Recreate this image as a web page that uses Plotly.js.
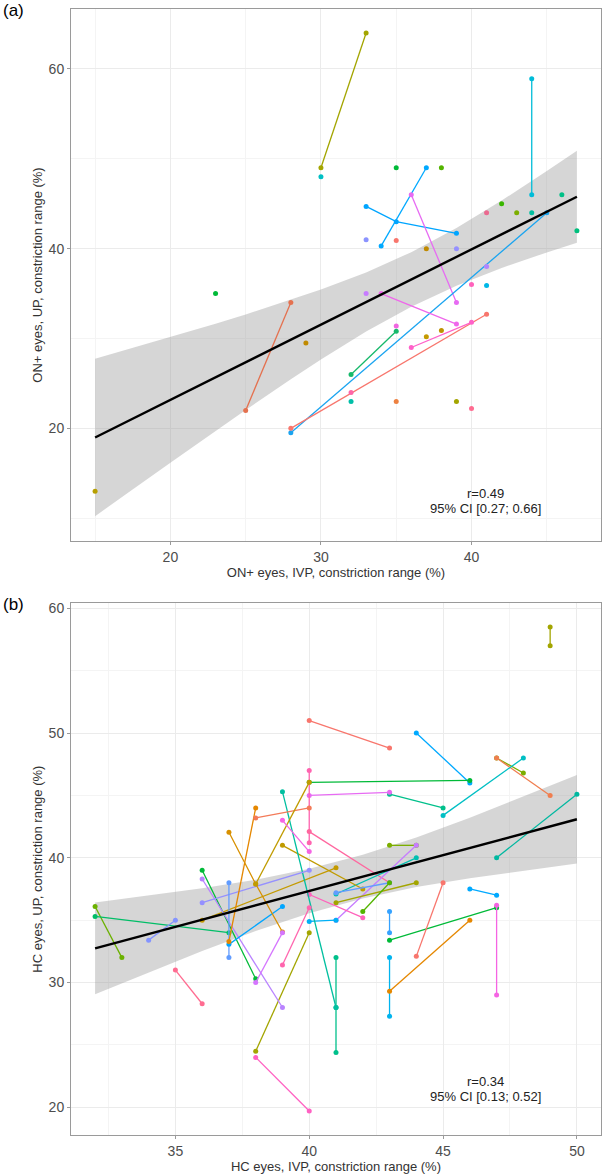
<!DOCTYPE html>
<html>
<head>
<meta charset="utf-8">
<script src="https://cdn.plot.ly/plotly-3.0.1.min.js"></script>
<style>html,body{margin:0;padding:0;background:#fff;}#chart{width:605px;height:1174px;}</style>
</head>
<body>
<div id="chart"></div>
<script>
// ---------- Panel (a): ON+ eyes ----------
const aX = [[30,33],[30],[35],[38],[34,37],[33,35,39],[36,39],[44,44],[44],[46],[42],[43],[41],[47],
  [28,45],[33],[35],[37],[39],[41],[40],[41],[23],[25,28],[15],[28,41],[32],[36,40],[33],[34,39],[35],
  [32,35],[29],[37],[38],[32],[35],[39],[40]];
const aY = [[49,64],[48],[49],[49],[40.3,49],[44.7,43,41.7],[46,34],[58.9,46],[44],[46],[45],[44],[44],[42],
  [19.5,44],[41],[40.9],[40],[40],[38],[36],[35.9],[35],[22,34],[13],[20,32.7],[24],[29,31.8],[35],[35,31.6],[31.4],
  [26,30.8],[29.5],[30.2],[30.9],[23],[23],[23],[22.2]];
const aCol = ['#A3A500','#00BFC4','#00BA38','#53B400','#00A9FF','#00A5FF','#E76BF3','#00BCD8','#00BFA0','#00C087','#39B600','#7CAE00','#EB6A90','#00BF7D',
  '#1AA4F0','#8B93FF','#F8766D','#C08A00','#9590FF','#B385FF','#FF62BC','#00B8E7','#00BA38','#E4714F','#B79F00','#F8766D','#FF66A8','#FF61C9','#C77CFF','#EF67EB','#F066E0',
  '#16B96B','#C08A00','#C49A00','#BE9200','#00BFA8','#ED8141','#A3A500','#FF6C91'];
const aFitX = [15,17,20,23,25,28,30,33,36,39,42,45,47];
const aFitY = [18.98,20.66,23.17,25.68,27.36,29.87,31.55,34.06,36.57,39.08,41.60,44.11,45.78];
const aLo   = [10.22,12.62,16.18,19.72,22.05,25.46,27.66,30.77,33.53,35.87,37.85,39.58,40.66];
const aHi   = [27.74,28.70,30.16,31.64,32.67,34.28,35.44,37.35,39.61,42.29,45.35,48.64,50.90];
const aStats = ['r=0.49','95% CI [0.27; 0.66]'];

// ---------- Panel (b): HC eyes ----------
const bX = [[49,49],[40,43],[44,46],[40,46],[47,48],[47,49],[45,48],[43,45],[40,43],[47,50],[40,40],[40,43],[43,44],[41,44],
  [41,44],[36,41],[39,42],[41,43],[41,44],[42,43],[40,42],[40,41],[38,40],[43,43],[43,47],[43,43],[43,46],[44,45],[46,47],[47,47],
  [41,41,41],[39,41],[38,40],[32,33],[32,37],[34,35],[35,36],[36,38],[36,39],[36,40],[37,37],[37,39],[37,38],[38,40],
  [37,38,39],[38,40],[38,39],[39,40],[39,40]];
const bY = [[58.5,57],[51,48.8],[50,46],[46.05,46.2],[48,46.8],[48,45],[43.4,48],[45.1,44],[45,45.25],[40,45.1],[47,41.2],[42.1,38],[41,41],[35,41],
  [37.1,40],[35,39.2],[41,37.5],[37.2,38],[36.4,38],[35.7,38],[37.06,35.2],[34.9,35],[24.5,34],[35.7,34],[33.4,36],[32,27.3],[29.3,35],[32.1,38],[37.5,37],[36.2,29],
  [32,28,24.4],[45.3,28],[24,19.7],[36.1,32],[35.3,34],[33.4,35],[31,28.3],[39,30.3],[38.3,28],[36.4,39],[38,32],[33.06,36.1],[33.3,44],[43.2,44],
  [42.05,37.9,34.05],[37.9,46.05],[30,34],[31.4,36],[43,40.5]];
const bCol = ['#A3A500','#F8766D','#00A9FF','#00BA38','#7CAE00','#F07E4F','#00BFC4','#00C08B','#E76BF3','#00B8A0','#FF64B0','#FF679F','#7CAE00','#C77CFF',
  '#00BFB0','#C49A00','#C09B00','#619CFF','#A3A500','#53B400','#FF62BC','#00B0F6','#A3A500','#35A2FF','#00BA38','#00B4EF','#E58700','#F8766D','#00A9FF','#F564E3',
  '#00C08B','#00BFA0','#FF61C3','#6BB100','#00BE67','#8494FF','#FF6C91','#00BA38','#B983FF','#9590FF','#619CFF','#00A5FF','#E58700','#F37B59',
  '#D89000','#C09B00','#D575FE','#FF65AE','#F564E3'];
const bFitX = [32,34,36,38,40,42,44,46,48,50];
const bFitY = [32.74,33.89,35.04,36.19,37.34,38.49,39.64,40.79,41.94,43.09];
const bLo   = [29.07,30.82,32.52,34.13,35.56,36.73,37.65,38.37,38.98,39.54];
const bHi   = [36.41,36.96,37.56,38.25,39.12,40.25,41.63,43.21,44.90,46.64];
const bStats = ['r=0.34','95% CI [0.13; 0.52]'];

const traces = [];
function addPanel(fx, fy, lo, hi, gx, gy, gc, xa, ya) {
  traces.push({x: fx.concat(fx.slice().reverse()), y: hi.concat(lo.slice().reverse()),
    type:'scatter', mode:'lines', fill:'toself', fillcolor:'rgba(153,153,153,0.4)',
    line:{width:0}, hoverinfo:'skip', showlegend:false, xaxis:xa, yaxis:ya});
  for (let i = 0; i < gx.length; i++) {
    traces.push({x: gx[i], y: gy[i], type:'scatter', mode: gx[i].length > 1 ? 'lines+markers' : 'markers',
      line:{color: gc[i], width:1.3}, marker:{color: gc[i], size:5},
      showlegend:false, xaxis:xa, yaxis:ya});
  }
  traces.push({x: fx, y: fy, type:'scatter', mode:'lines', line:{color:'#000', width:2.4},
    showlegend:false, xaxis:xa, yaxis:ya});
}
addPanel(aFitX, aFitY, aLo, aHi, aX, aY, aCol, 'x', 'y');
addPanel(bFitX, bFitY, bLo, bHi, bX, bY, bCol, 'x2', 'y2');

const FONT = 'Liberation Sans, Arial, sans-serif';
function ax(extra) {
  return Object.assign({
    showline:true, mirror:true, linecolor:'#9a9a9a', linewidth:1,
    ticks:'outside', ticklen:3, tickcolor:'#9a9a9a', tickwidth:1,
    showgrid:true, gridcolor:'#EBEBEB', gridwidth:1, zeroline:false, automargin:true,
    tickfont:{family:FONT, size:14, color:'#4D4D4D'}
  }, extra);
}
const TF = {family:FONT, size:13, color:'#333'};
const layout = {
  width:605, height:1174,
  margin:{l:71, r:4, t:9, b:39},
  paper_bgcolor:'#fff', plot_bgcolor:'#fff',
  font:{family:FONT, color:'#333'},
  showlegend:false,
  xaxis: ax({domain:[0,1], anchor:'y', range:[13.4,48.6], tickvals:[20,30,40], minor:{showgrid:true, gridcolor:'#F4F4F4', tickvals:[15,25,35,45]},
    title:{text:'ON+ eyes, IVP, constriction range (%)', font:TF, standoff:2}}),
  yaxis: ax({domain:[0.5275,1], anchor:'x', range:[7.46,66.67], tickvals:[20,40,60], minor:{showgrid:true, gridcolor:'#F4F4F4', tickvals:[10,30,50]},
    title:{text:'ON+ eyes, UP, constriction range (%)', font:TF, standoff:3}}),
  xaxis2: ax({domain:[0,1], anchor:'y2', range:[31.1,50.9], tickvals:[35,40,45,50], minor:{showgrid:true, gridcolor:'#F4F4F4', tickvals:[32.5,37.5,42.5,47.5]},
    title:{text:'HC eyes, IVP, constriction range (%)', font:TF, standoff:2}}),
  yaxis2: ax({domain:[0,0.4722], anchor:'x2', range:[17.78,60.4], tickvals:[20,30,40,50,60], minor:{showgrid:true, gridcolor:'#F4F4F4', tickvals:[25,35,45,55]},
    title:{text:'HC eyes, UP, constriction range (%)', font:TF, standoff:3}}),
  annotations:[
    {text:aStats[0], x:40.95, y:12.8, xref:'x', yref:'y', showarrow:false, font:{family:FONT, size:13, color:'#222'}},
    {text:aStats[1], x:40.95, y:11.1, xref:'x', yref:'y', showarrow:false, font:{family:FONT, size:13, color:'#222'}},
    {text:bStats[0], x:46.59, y:22.1, xref:'x2', yref:'y2', showarrow:false, font:{family:FONT, size:13, color:'#222'}},
    {text:bStats[1], x:46.59, y:20.9, xref:'x2', yref:'y2', showarrow:false, font:{family:FONT, size:13, color:'#222'}},
    {text:'(a)', x:-0.132, y:0.9985, xref:'paper', yref:'paper', xanchor:'left', yanchor:'middle', showarrow:false, font:{family:FONT, size:17, color:'#000'}},
    {text:'(b)', x:-0.132, y:0.4707, xref:'paper', yref:'paper', xanchor:'left', yanchor:'middle', showarrow:false, font:{family:FONT, size:17, color:'#000'}}
  ]
};
Plotly.newPlot('chart', traces, layout, {displayModeBar:false, staticPlot:true});
</script>
</body>
</html>
